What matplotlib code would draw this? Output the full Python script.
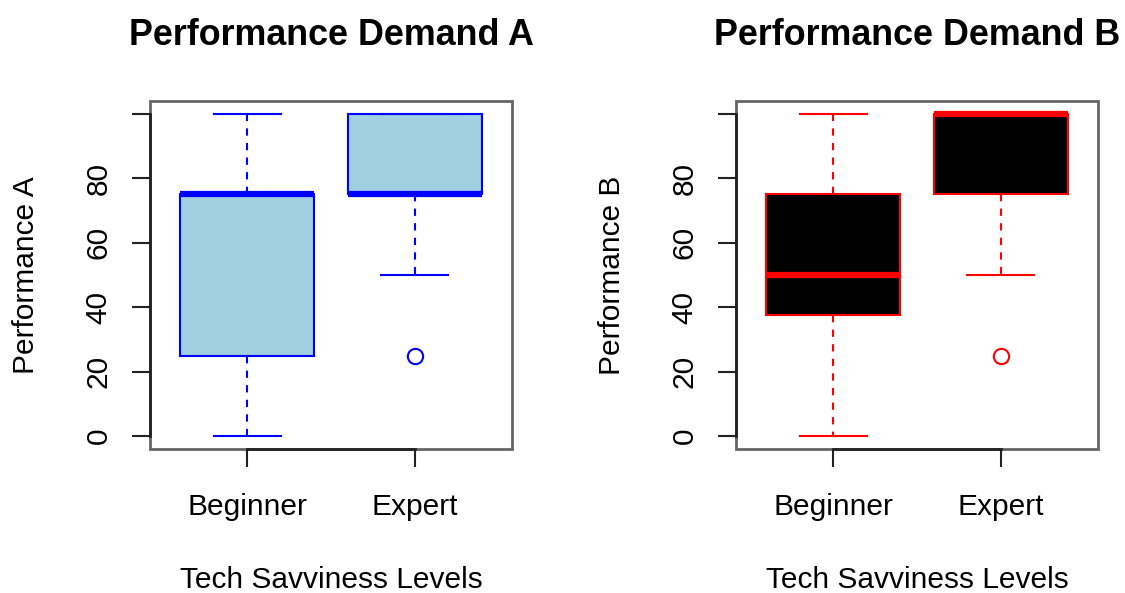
import matplotlib
matplotlib.use("Agg")
import matplotlib.pyplot as plt

plt.rcParams['font.family'] = ['Liberation Sans', 'DejaVu Sans']

# Box summary values
groups = ['Beginner', 'Expert']

a_low = [0, 50]
a_q1 = [25, 75]
a_med = [75, 75]
a_q3 = [75, 100]
a_high = [100, 100]
a_out = [[], [25]]

b_low = [0, 50]
b_q1 = [37.5, 75]
b_med = [50, 100]
b_q3 = [75, 100]
b_high = [100, 100]
b_out = [[], [25]]

yticks = [0, 20, 40, 60, 80, 100]
ytick_labels = ['0', '20', '40', '60', '80', '']


def make_stats(low, q1, med, q3, high, out):
    stats = []
    for i in range(len(groups)):
        stats.append(dict(label=groups[i], whislo=low[i], q1=q1[i], med=med[i],
                          q3=q3[i], whishi=high[i], fliers=out[i]))
    return stats


def draw_panel(ax, stats, fill, edge, title, ylabel):
    ax.bxp(stats, positions=[1, 2], widths=0.8, capwidths=0.4, patch_artist=True,
           boxprops=dict(facecolor=fill, edgecolor=edge, linewidth=1.5),
           medianprops=dict(color=edge, linewidth=4.5, solid_capstyle='butt'),
           whiskerprops=dict(color=edge, linewidth=1.5, linestyle=(0, (3.5, 3.5))),
           capprops=dict(color=edge, linewidth=1.5),
           flierprops=dict(marker='o', markerfacecolor='none', markeredgecolor=edge,
                           markersize=11, markeredgewidth=1.5))
    ax.set_xlim(0.42, 2.58)
    ax.set_ylim(-4, 104)
    ax.set_yticks(yticks)
    ax.set_yticklabels(ytick_labels, rotation=90, va='center')
    ax.set_xticks([1, 2])
    ax.set_xticklabels(groups)
    ax.tick_params(axis='both', length=13, width=1.5, labelsize=21.5, color='#222222')
    ax.tick_params(axis='y', pad=14)
    ax.tick_params(axis='x', pad=19)
    # R-style frame plus axis lines only between the outer ticks
    ax.patch.set_edgecolor('#666666')
    ax.patch.set_linewidth(2)
    ax.spines['top'].set_visible(False)
    ax.spines['right'].set_visible(False)
    ax.spines['left'].set_bounds(0, 100)
    ax.spines['bottom'].set_bounds(1, 2)
    for s in ['left', 'bottom']:
        ax.spines[s].set_color('#222222')
        ax.spines[s].set_linewidth(2)
    ax.set_title(title, fontsize=25.8, fontweight='bold', pad=40)
    ax.set_xlabel('Tech Savviness Levels', fontsize=21.5, labelpad=32)
    ax.set_ylabel(ylabel, fontsize=21.5, labelpad=32)


fig = plt.figure(figsize=(11.25, 5.93), dpi=100)
ax1 = fig.add_axes([150 / 1125, 1 - 449 / 593, 362 / 1125, 348 / 593])
ax2 = fig.add_axes([736 / 1125, 1 - 449 / 593, 362 / 1125, 348 / 593])

draw_panel(ax1, make_stats(a_low, a_q1, a_med, a_q3, a_high, a_out),
           '#9fcfe0', 'blue', 'Performance Demand A', 'Performance A')
draw_panel(ax2, make_stats(b_low, b_q1, b_med, b_q3, b_high, b_out),
           'black', 'red', 'Performance Demand B', 'Performance B')

fig.savefig('out.png', dpi=100)
